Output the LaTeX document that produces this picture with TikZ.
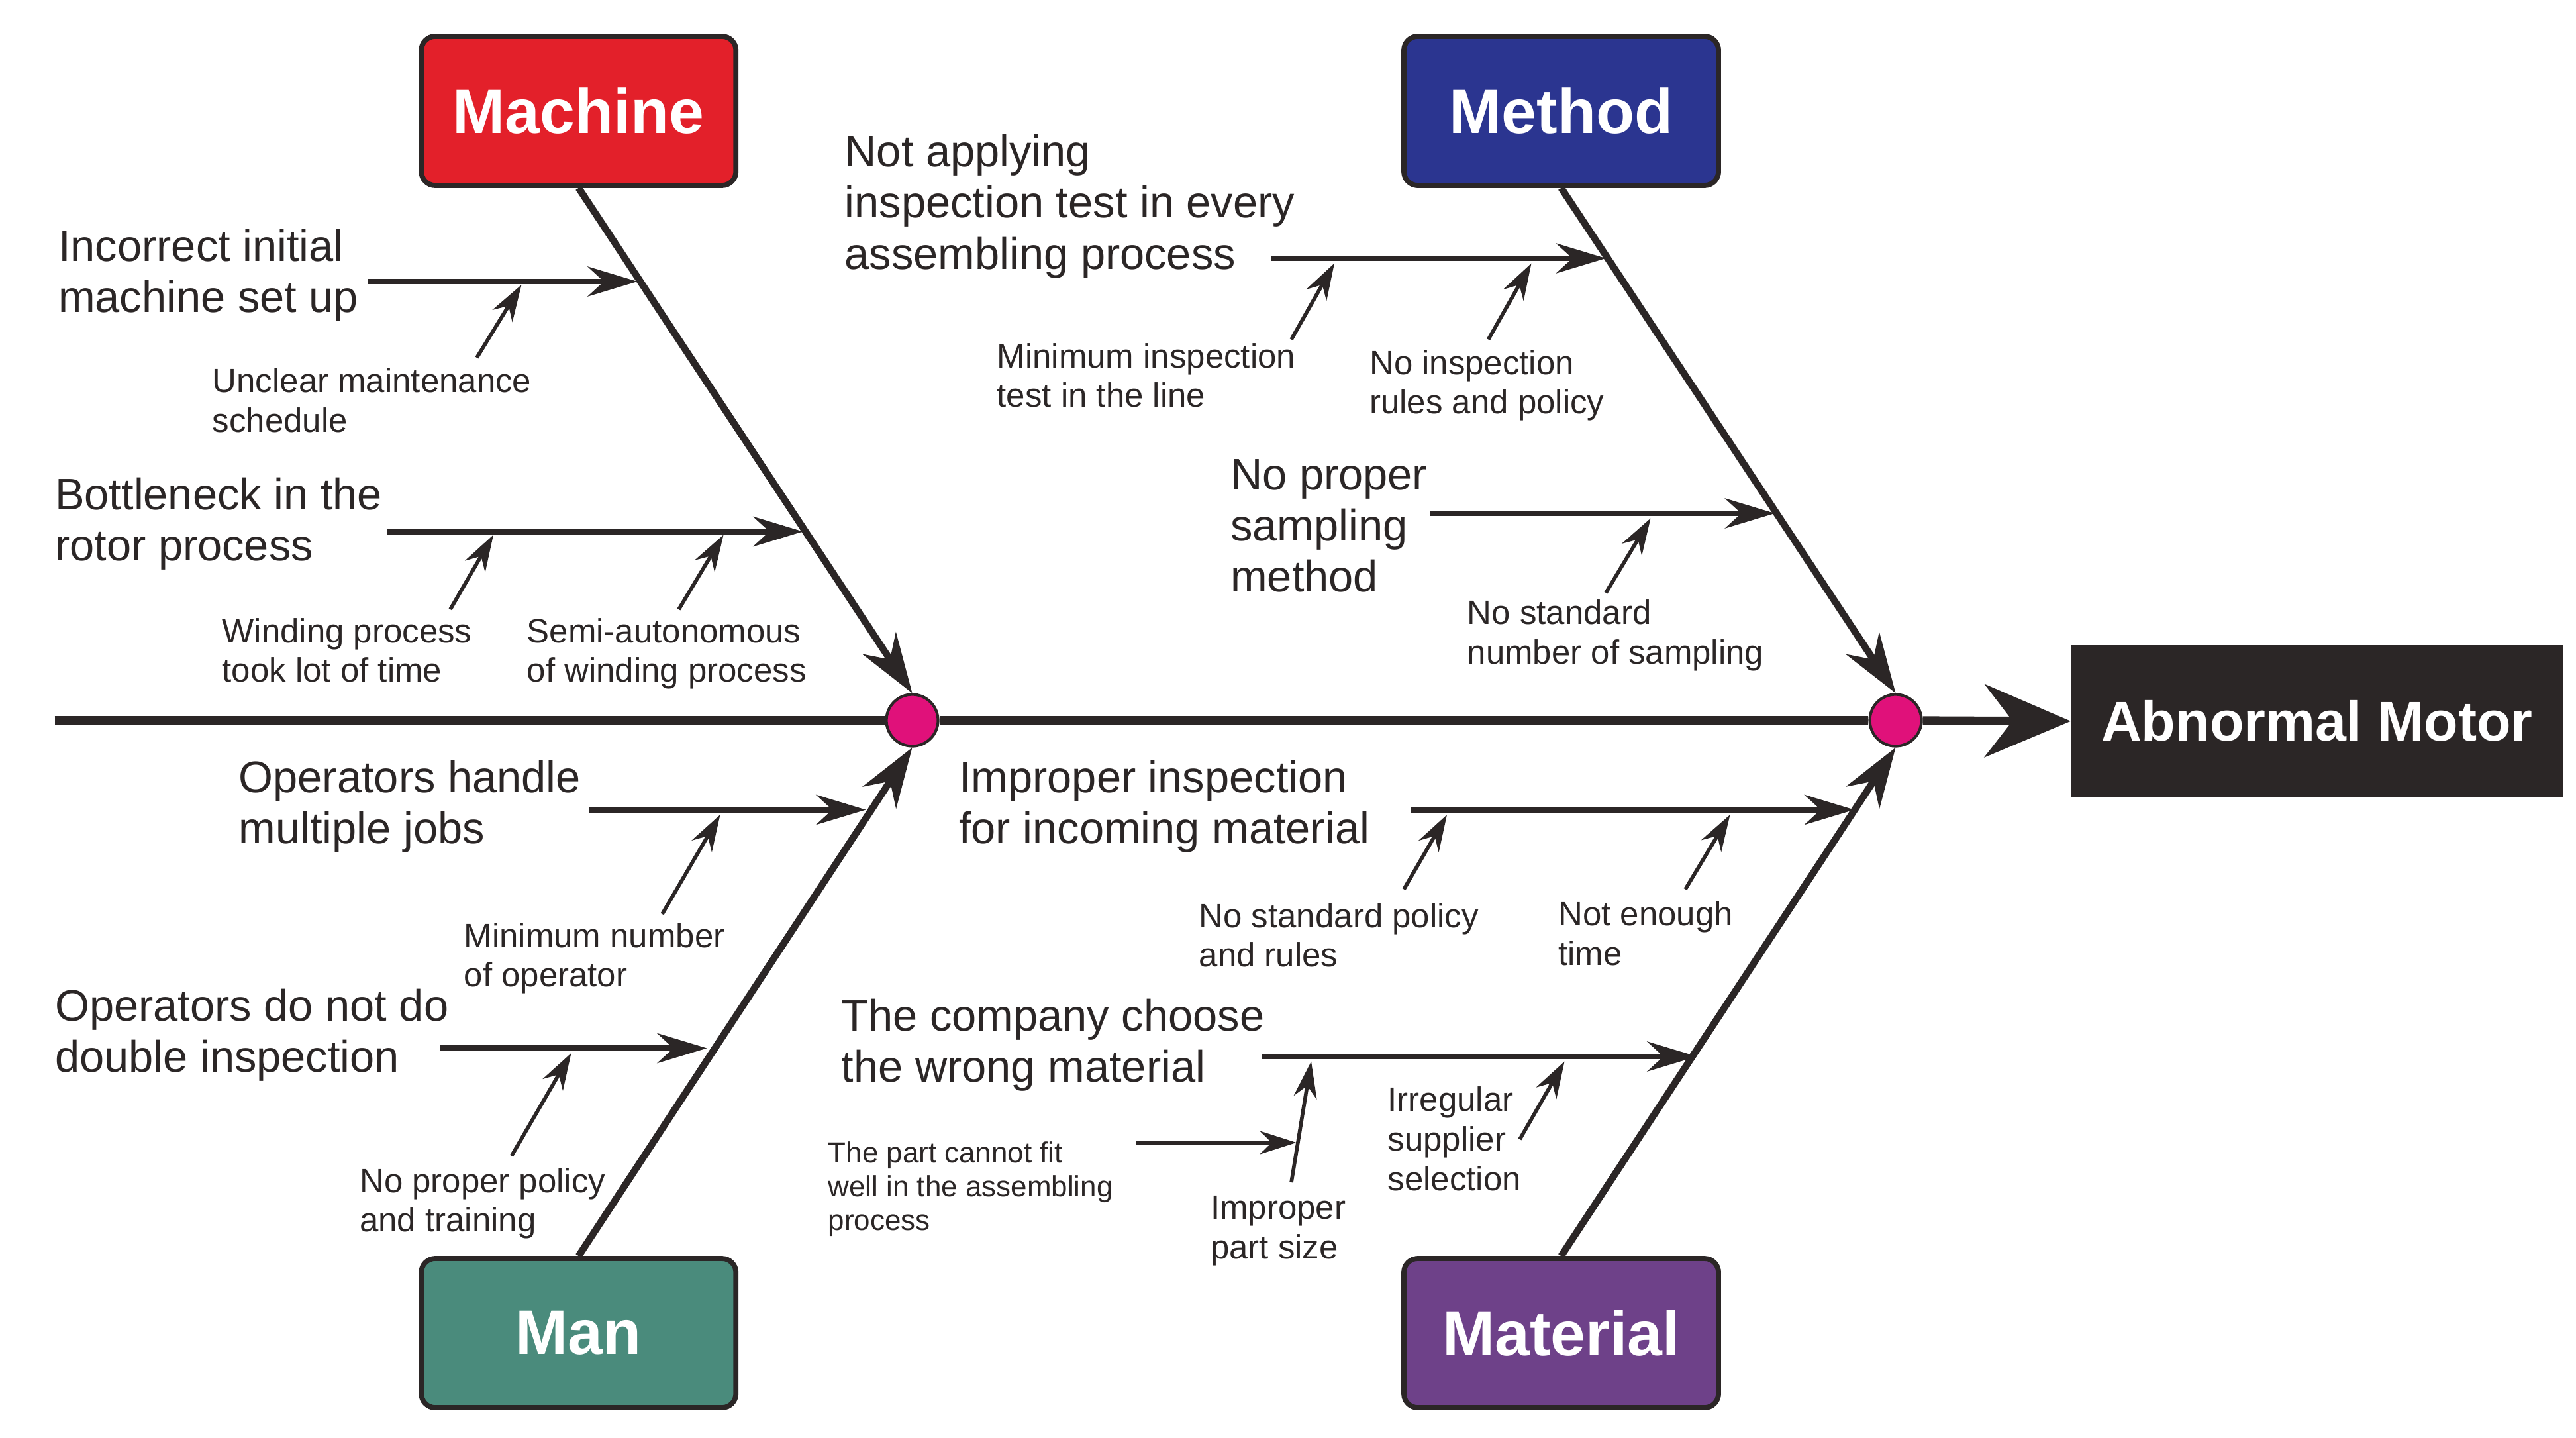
\documentclass[tikz,border=0pt]{standalone}
\usepackage{fontspec}
\setmainfont{Liberation Sans}
\usetikzlibrary{arrows.meta}
\definecolor{ink}{HTML}{2B2626}
\definecolor{cRed}{HTML}{E3202A}
\definecolor{cBlue}{HTML}{2B3590}
\definecolor{cTeal}{HTML}{4A8B7C}
\definecolor{cPurple}{HTML}{6E4189}
\definecolor{cMag}{HTML}{E0117A}
\begin{document}
\begin{tikzpicture}[x=0.025cm,y=-0.025cm,
  cat/.style={draw=ink,line width=2.2pt,rounded corners=6pt,minimum width=4.75cm,minimum height=2.25cm,text=white,font=\fontsize{27}{30}\selectfont\bfseries},
  big/.style={anchor=north west,inner sep=0,align=left,text=ink,font=\fontsize{19}{22}\selectfont},
  mid/.style={anchor=north west,inner sep=0,align=left,text=ink,font=\fontsize{14.5}{17}\selectfont},
  sml/.style={anchor=north west,inner sep=0,align=left,text=ink,font=\fontsize{12.5}{14.5}\selectfont},
  spine/.style={draw=ink,line width=3.6pt},
  bone/.style={draw=ink,line width=3pt,-{Stealth[length=0.9cm,width=0.6cm]}},
  sub/.style={draw=ink,line width=2.4pt,-{Stealth[length=0.75cm,width=0.45cm]}},
  sub2/.style={draw=ink,line width=1.6pt,-{Stealth[length=0.55cm,width=0.35cm]}},
  dot/.style={circle,draw=ink,line width=1.2pt,fill=cMag,minimum size=0.78cm,inner sep=0}]
\useasboundingbox (0,0) rectangle (1556,868);
% spine
\coordinate (s0) at (33,435);
\node[dot] (d1) at (551,435) {};
\node[dot] (d2) at (1145,435) {};
\node[fill=ink,minimum width=7.42cm,minimum height=2.3cm,text=white,font=\fontsize{24}{28}\selectfont\bfseries] (eff) at (1399.5,435.5) {Abnormal Motor};
\draw[spine] (s0) -- (d1) -- (d2);
\draw[spine,-{Stealth[length=1.3cm,width=1.1cm]}] (d2) -- (eff.west);
% category boxes
\node[cat,fill=cRed] (mac) at (349.5,67) {Machine};
\node[cat,fill=cBlue] (met) at (943,67) {Method};
\node[cat,fill=cTeal] (man) at (349.5,805) {Man};
\node[cat,fill=cPurple] (mat) at (943,805) {Material};
\draw[bone] (mac.south) -- (d1.north);
\draw[bone] (met.south) -- (d2.north);
\draw[bone] (man.north) -- (d1.south);
\draw[bone] (mat.north) -- (d2.south);
% Machine
\node[big] (t1) at (35,138) {Incorrect initial\\machine set up};
\coordinate (a1s) at (222,170); \coordinate (a1e) at (385,170);
\draw[sub] (a1s) -- (a1e);
\coordinate (b1s) at (288,216); \coordinate (b1e) at (315,172);
\draw[sub2] (b1s) -- (b1e);
\node[mid] (l1) at (128,222) {Unclear maintenance\\schedule};
\node[big] (t2) at (33,288) {Bottleneck in the\\rotor process};
\coordinate (a2s) at (234,321); \coordinate (a2e) at (485,321);
\draw[sub] (a2s) -- (a2e);
\coordinate (b2s) at (272,368); \coordinate (b2e) at (298,323);
\draw[sub2] (b2s) -- (b2e);
\coordinate (b3s) at (410,368); \coordinate (b3e) at (437,323);
\draw[sub2] (b3s) -- (b3e);
\node[mid] (l2) at (134,373) {Winding process\\took lot of time};
\node[mid] (l3) at (318,373) {Semi-autonomous\\of winding process};
% Method
\node[big] (t3) at (510,81) {Not applying\\inspection test in every\\assembling process};
\coordinate (a3s) at (768,156); \coordinate (a3e) at (970,156);
\draw[sub] (a3s) -- (a3e);
\coordinate (b4s) at (780,205); \coordinate (b4e) at (806,159);
\draw[sub2] (b4s) -- (b4e);
\coordinate (b5s) at (899,205); \coordinate (b5e) at (925,159);
\draw[sub2] (b5s) -- (b5e);
\node[mid] (l4) at (602,207) {Minimum inspection\\test in the line};
\node[mid] (l5) at (827,211) {No inspection\\rules and policy};
\node[big] (t4) at (743,277) {No proper\\sampling\\method};
\coordinate (a4s) at (864,310); \coordinate (a4e) at (1072,310);
\draw[sub] (a4s) -- (a4e);
\coordinate (b6s) at (970,358); \coordinate (b6e) at (997,313);
\draw[sub2] (b6s) -- (b6e);
\node[mid] (l6) at (886,362) {No standard\\number of sampling};
% Man
\node[big] (t5) at (144,459) {Operators handle\\multiple jobs};
\coordinate (a5s) at (356,489); \coordinate (a5e) at (523,489);
\draw[sub] (a5s) -- (a5e);
\coordinate (b7s) at (400,552); \coordinate (b7e) at (435,492);
\draw[sub2] (b7s) -- (b7e);
\node[mid] (l7) at (280,557) {Minimum number\\of operator};
\node[big] (t6) at (33,597) {Operators do not do\\double inspection};
\coordinate (a6s) at (266,633); \coordinate (a6e) at (427,633);
\draw[sub] (a6s) -- (a6e);
\coordinate (b8s) at (309,698); \coordinate (b8e) at (345,636);
\draw[sub2] (b8s) -- (b8e);
\node[mid] (l8) at (217,705) {No proper policy\\and training};
% Material
\node[big] (t7) at (579,459) {Improper inspection\\for incoming material};
\coordinate (a7s) at (852,489); \coordinate (a7e) at (1120,489);
\draw[sub] (a7s) -- (a7e);
\coordinate (b9s) at (848,537); \coordinate (b9e) at (874,492);
\draw[sub2] (b9s) -- (b9e);
\coordinate (b10s) at (1018,537); \coordinate (b10e) at (1045,492);
\draw[sub2] (b10s) -- (b10e);
\node[mid] (l9) at (724,545) {No standard policy\\and rules};
\node[mid] (l10) at (941,544) {Not enough\\time};
\node[big] (t8) at (508,603) {The company choose\\the wrong material};
\coordinate (a8s) at (762,638); \coordinate (a8e) at (1025,638);
\draw[sub] (a8s) -- (a8e);
\coordinate (b11s) at (780,714); \coordinate (b11e) at (792,641);
\draw[sub2] (b11s) -- (b11e);
\node[mid] (l11) at (731,722) {Improper\\part size};
\coordinate (b12s) at (918,688); \coordinate (b12e) at (945,641);
\draw[sub2] (b12s) -- (b12e);
\node[mid] (l12) at (838,656) {Irregular\\supplier\\selection};
\node[sml] (l13) at (500,689) {The part cannot fit\\well in the assembling\\process};
\coordinate (b13s) at (686,690); \coordinate (b13e) at (783,690);
\draw[sub2] (b13s) -- (b13e);
\end{tikzpicture}
\end{document}
